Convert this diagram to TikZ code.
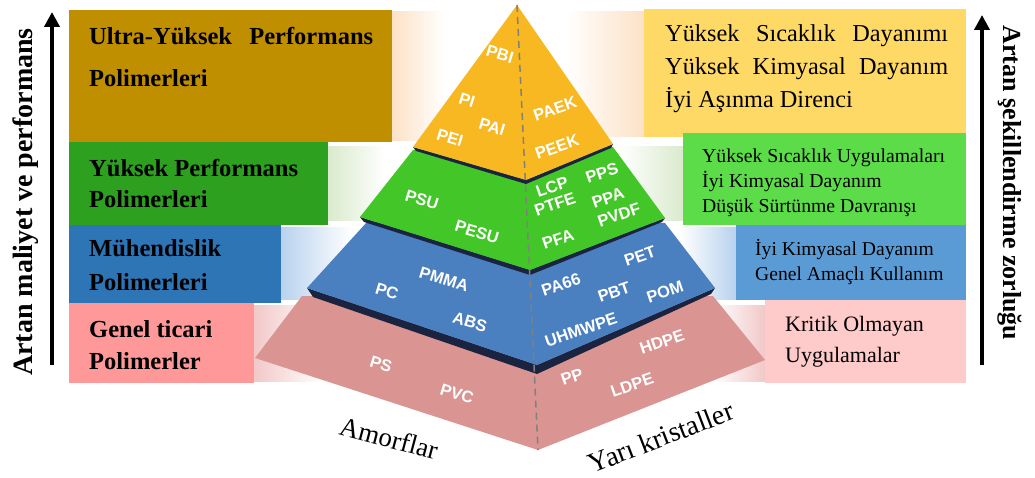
\documentclass[tikz,border=0pt]{standalone}
\usepackage{fontspec}
\setmainfont{Liberation Serif}
\newfontfamily\polyfont{Liberation Sans}
\usetikzlibrary{arrows.meta,positioning}

\definecolor{ultragold}{RGB}{192,143,0}
\definecolor{hpgreen}{RGB}{46,160,31}
\definecolor{engblue}{RGB}{46,117,182}
\definecolor{compink}{RGB}{255,152,152}
\definecolor{layyellow}{RGB}{248,184,33}
\definecolor{laygreen}{RGB}{67,199,40}
\definecolor{layblue}{RGB}{74,127,192}
\definecolor{laypink}{RGB}{218,149,147}
\definecolor{propyellow}{RGB}{255,217,102}
\definecolor{propgreen}{RGB}{91,220,72}
\definecolor{propblue}{RGB}{91,155,213}
\definecolor{proppink}{RGB}{255,202,202}
\definecolor{edgedark}{RGB}{26,36,64}
\definecolor{peach}{RGB}{252,226,198}
\definecolor{sage}{RGB}{218,234,204}
\definecolor{sky}{RGB}{184,210,238}
\definecolor{blush}{RGB}{242,200,200}

\begin{document}
\begin{tikzpicture}[x=1pt, y=-1pt,
    grp/.style={anchor=base west, align=left, inner sep=0pt, font=\bfseries\fontsize{24.5}{32}\selectfont},
    prop/.style={anchor=base west, align=left, inner sep=0pt},
    poly/.style={text=white, inner sep=0pt, font=\polyfont\bfseries\fontsize{16.5}{16.5}\selectfont},
    amf/.style={poly, rotate=-17},
    sck/.style={poly, rotate=19},
    axis/.style={line width=4pt, -{Triangle[length=15pt, width=15pt]}},
    axtext/.style={inner sep=0pt}]

    \useasboundingbox (0,0) rectangle (1035,478);

    % soft bands behind the pyramid
    \shade[left color=peach, right color=white] (392,12) rectangle (445,141);
    \shade[left color=white, right color=peach] (565,12) rectangle (644,137);
    \shade[left color=sage, right color=white] (328,147) rectangle (385,221);
    \shade[left color=white, right color=sage] (620,147) rectangle (683,221);
    \shade[left color=sky, right color=white] (281,228) rectangle (352,299);
    \shade[left color=white, right color=sky] (680,228) rectangle (736,299);
    \shade[left color=blush, right color=white] (254,305) rectangle (322,381);
    \shade[left color=white, right color=blush] (712,305) rectangle (765,381);

    % group boxes
    \fill[ultragold] (69,10) rectangle (392,142);
    \fill[hpgreen] (69,142) rectangle (328,225);
    \fill[engblue] (69,225) rectangle (281,303);
    \fill[compink] (69,303) rectangle (254,383);

    \fill[propyellow] (644,9) rectangle (966,137);
    \fill[propgreen] (683,133) rectangle (966,225);
    \fill[propblue] (736,225) rectangle (966,300);
    \fill[proppink] (765,300) rectangle (966,383);

    \node[grp, font=\bfseries\fontsize{24.5}{42}\selectfont] (ultra) at (89,87) {\makebox[284pt][s]{Ultra-Yüksek Performans}\\Polimerleri};
    \node[grp] (highperf) at (89,208) {Yüksek Performans\\Polimerleri};
    \node[grp, font=\bfseries\fontsize{24.5}{33}\selectfont] (engineering) at (89,290) {Mühendislik\\Polimerleri};
    \node[grp] (commodity) at (89,369) {Genel ticari\\Polimerler};

    \node[prop, font=\fontsize{24.3}{33}\selectfont] (ultraprop) at (665,108) {\makebox[283pt][s]{Yüksek Sıcaklık Dayanımı}\\\makebox[283pt][s]{Yüksek Kimyasal Dayanım}\\İyi Aşınma Direnci};
    \node[prop, font=\fontsize{19.7}{25}\selectfont] (highprop) at (702,213) {Yüksek Sıcaklık Uygulamaları\\İyi Kimyasal Dayanım\\Düşük Sürtünme Davranışı};
    \node[prop, font=\fontsize{19.6}{25}\selectfont] (engprop) at (755,280) {İyi Kimyasal Dayanım\\Genel Amaçlı Kullanım};
    \node[prop, font=\fontsize{22}{31}\selectfont] (comprop) at (785,362) {Kritik Olmayan\\Uygulamalar};

    % pyramid
    \coordinate (apex) at (517,5);
    \coordinate (front) at (538,450);
    \fill[laypink] (302,296) -- (255,358) -- (front) -- (765,360) -- (713,296) -- cycle;
    \fill[edgedark] (307,288) -- (537,365) -- (715,288) -- (711,294) -- (537,374) -- (313,297) -- cycle;
    \fill[layblue] (367,222) -- (307,288) -- (537,365) -- (715,288) -- (665,223) -- cycle;
    \fill[edgedark] (360,217) -- (530,270) -- (665,218) -- (662,222) -- (530,275) -- (364,222) -- cycle;
    \fill[laygreen] (413,150) -- (360,217) -- (530,270) -- (665,218) -- (613,147) -- cycle;
    \fill[edgedark] (413,147) -- (526,180) -- (613,144) -- (611,148) -- (526,184) -- (416,151) -- cycle;
    \fill[layyellow] (apex) -- (413,147) -- (526,180) -- (613,144) -- cycle;
    \draw[gray, line width=1.5pt, dash pattern=on 7pt off 5pt] (apex) -- (front);

    \node[amf] (pbi) at (500,54) {PBI};
    \node[amf] (pi) at (467,100) {PI};
    \node[amf] (pai) at (492,127) {PAI};
    \node[amf] (pei) at (450,138) {PEI};
    \node[sck] (paek) at (555,109) {PAEK};
    \node[sck] (peek) at (557,147) {PEEK};

    \node[amf] (psu) at (422,200) {PSU};
    \node[amf] (pesu) at (477,232) {PESU};
    \node[sck] (lcp) at (552,187) {LCP};
    \node[sck] (pps) at (602,173) {PPS};
    \node[sck] (ptfe) at (555,204) {PTFE};
    \node[sck] (ppa) at (608,198) {PPA};
    \node[sck] (pvdf) at (619,215) {PVDF};
    \node[sck] (pfa) at (558,239) {PFA};

    \node[amf] (pmma) at (444,279) {PMMA};
    \node[amf] (pc) at (387,291) {PC};
    \node[amf] (abs) at (470,322) {ABS};
    \node[sck] (pa66) at (561,285) {PA66};
    \node[sck] (pet) at (640,256) {PET};
    \node[sck] (pbt) at (614,292) {PBT};
    \node[sck] (pom) at (665,292) {POM};
    \node[sck] (uhmwpe) at (581,330) {UHMWPE};

    \node[amf] (ps) at (381,364) {PS};
    \node[amf] (pvc) at (457,394) {PVC};
    \node[sck] (pp) at (572,377) {PP};
    \node[sck] (hdpe) at (662,342) {HDPE};
    \node[sck] (ldpe) at (632,385) {LDPE};

    \node[rotate=-15, inner sep=0pt, font=\fontsize{27}{27}\selectfont] (amorph) at (389,438) {Amorflar};
    \node[rotate=21, inner sep=0pt, font=\fontsize{28}{28}\selectfont] (semicryst) at (661,437) {Yarı kristaller};

    % side arrows
    \coordinate (costlow) at (52,365);
    \coordinate (costhigh) at (52,12);
    \coordinate (formlow) at (982,365);
    \coordinate (formhigh) at (982,15);
    \draw[axis] (costlow) -- (costhigh);
    \draw[axis] (formlow) -- (formhigh);
    \node[axtext, rotate=90, font=\bfseries\fontsize{28}{28}\selectfont] (costlabel) at (26,202) {Artan maliyet ve performans};
    \node[axtext, rotate=-90, font=\bfseries\fontsize{26}{26}\selectfont] (formlabel) at (1010,183) {Artan şekillendirme zorluğu};
\end{tikzpicture}
\end{document}
